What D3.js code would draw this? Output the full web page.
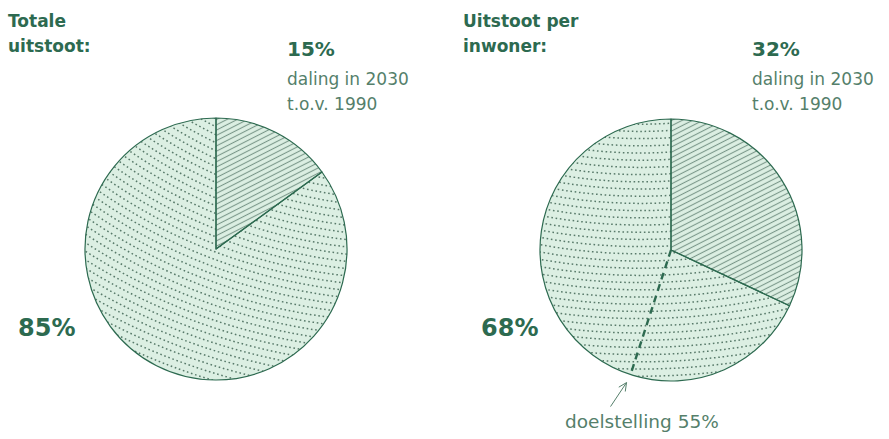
<!DOCTYPE html>
<html>
<head>
<meta charset="utf-8">
<script src="https://cdn.jsdelivr.net/npm/d3@7"></script>
<style>
  html, body { margin: 0; padding: 0; background: #ffffff; }
  svg { display: block; }
</style>
</head>
<body>
<svg id="chart" width="889" height="439"></svg>
<script>
// Emission reductions in 2030 compared with 1990
const titles = [["Totale", "uitstoot:"], ["Uitstoot per", "inwoner:"]];
const reductions = [15, 32];           // % decrease
const remaining = [85, 68];            // % still emitted
const subtitle = ["daling in 2030", "t.o.v. 1990"];
const targetLabel = "doelstelling 55%";
const targetValue = 55;                // target reduction, per inhabitant pie

const dark = "#2d6a50";
const textSoft = "#557f6b";
const fillMint = "#dcefe3";
const lineGrey = "#7a988a";
const font = "'DejaVu Sans', Verdana, sans-serif";

const svg = d3.select("#chart");
const defs = svg.append("defs");

// diagonal hatch used for the reduction slice
const hatch = defs.append("pattern")
  .attr("id", "hatch")
  .attr("patternUnits", "userSpaceOnUse")
  .attr("width", 8).attr("height", 4.7)
  .attr("patternTransform", "rotate(-27)");
hatch.append("rect").attr("width", 8).attr("height", 4.7).attr("fill", fillMint);
hatch.append("line")
  .attr("x1", 0).attr("x2", 8).attr("y1", 2.35).attr("y2", 2.35)
  .attr("stroke", lineGrey).attr("stroke-width", 1.1);

const R = 131;
const pies = [
  { cx: 216, cy: 249, dotCentre: [188, -500], titleX: 8, labelX: 287, restX: 18 },
  { cx: 671, cy: 250, dotCentre: [-30, -560], titleX: 463, labelX: 752, restX: 481 }
];

const pie = d3.pie().sort(null).startAngle(0).endAngle(2 * Math.PI);
const arc = d3.arc().innerRadius(0).outerRadius(R);

pies.forEach((p, i) => {
  const data = pie([reductions[i], remaining[i]]);
  const g = svg.append("g").attr("transform", `translate(${p.cx},${p.cy})`);

  // remaining share: mint fill with dotted curved rows
  const clipId = "clip" + i;
  defs.append("clipPath").attr("id", clipId)
    .append("path").attr("d", arc(data[1]));
  g.append("path").attr("d", arc(data[1])).attr("fill", fillMint);
  const dots = g.append("g").attr("clip-path", `url(#${clipId})`);
  const [dx, dy] = p.dotCentre;
  const dist = Math.hypot(dx, dy);
  const radii = d3.range(dist - R - 10, dist + R + 10, 7.2);
  dots.selectAll("circle").data(radii).join("circle")
    .attr("cx", dx).attr("cy", dy).attr("r", d => d)
    .attr("fill", "none")
    .attr("stroke", "#587a6a")
    .attr("stroke-width", 1.5)
    .attr("stroke-dasharray", "1.6 2.7");

  // reduction share: hatched
  g.append("path").attr("d", arc(data[0])).attr("fill", "url(#hatch)");

  // outlines of the slices
  g.selectAll("path.outline").data(data).join("path")
    .attr("class", "outline")
    .attr("d", arc)
    .attr("fill", "none")
    .attr("stroke", dark)
    .attr("stroke-width", 1.2)
    .attr("stroke-linejoin", "round");

  // titles
  const t = svg.append("text")
    .attr("font-family", font)
    .attr("font-weight", 700).attr("font-size", 17)
    .attr("fill", dark);
  titles[i].forEach((line, k) => t.append("tspan")
    .attr("x", p.titleX).attr("y", 27 + k * 25).text(line));

  // percentage of reduction with caption
  svg.append("text")
    .attr("x", p.labelX).attr("y", 56)
    .attr("font-family", font)
    .attr("font-weight", 700).attr("font-size", 20)
    .attr("fill", dark)
    .text(reductions[i] + "%");
  subtitle.forEach((line, k) => svg.append("text")
    .attr("x", p.labelX).attr("y", 85 + k * 25)
    .attr("font-family", font)
    .attr("font-size", 17)
    .attr("fill", textSoft)
    .text(line));

  // remaining share label
  svg.append("text")
    .attr("x", p.restX).attr("y", 336)
    .attr("font-family", font)
    .attr("font-weight", 700).attr("font-size", 24)
    .attr("fill", dark)
    .text(remaining[i] + "%");

  // target marker on the per-inhabitant pie
  if (i === 1) {
    const a = targetValue / 100 * 2 * Math.PI;
    const ex = R * Math.sin(a), ey = -R * Math.cos(a);
    g.append("line")
      .attr("x1", 0).attr("y1", 0).attr("x2", ex).attr("y2", ey)
      .attr("stroke", dark).attr("stroke-width", 2.4)
      .attr("stroke-dasharray", "7 5");

    // small arrow pointing at the end of the dashed line
    const hx = ex - 4, hy = ey + 8;
    const tx = hx - 16, ty = hy + 24;
    const ang = Math.atan2(hy - ty, hx - tx);
    const hl = 9;
    const arrow = d3.path();
    arrow.moveTo(tx, ty); arrow.lineTo(hx, hy);
    arrow.moveTo(hx - hl * Math.cos(ang - 0.45), hy - hl * Math.sin(ang - 0.45));
    arrow.lineTo(hx, hy);
    arrow.lineTo(hx - hl * Math.cos(ang + 0.45), hy - hl * Math.sin(ang + 0.45));
    g.append("path").attr("d", arrow.toString())
      .attr("fill", "none").attr("stroke", textSoft).attr("stroke-width", 1);

    svg.append("text")
      .attr("x", 565).attr("y", 428)
      .attr("font-family", font)
      .attr("font-size", 18.5)
      .attr("fill", textSoft)
      .text(targetLabel);
  }
});
</script>
</body>
</html>
